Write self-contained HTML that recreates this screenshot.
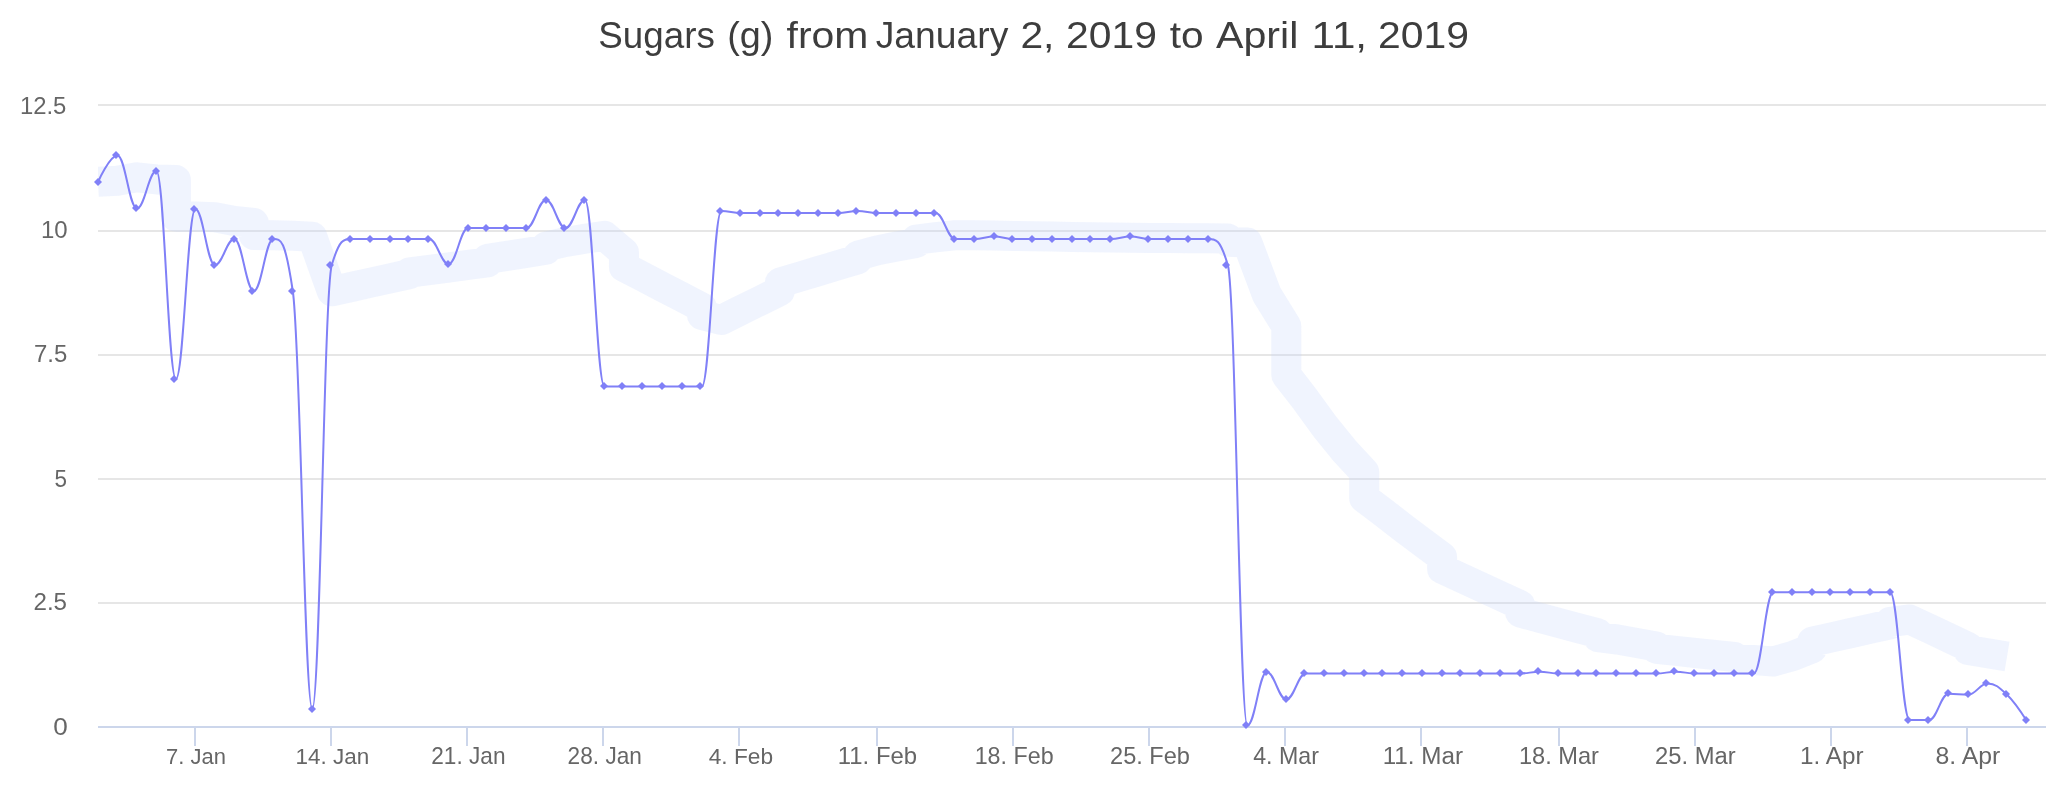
<!DOCTYPE html><html><head><meta charset="utf-8"><title>Sugars</title><style>html,body{margin:0;padding:0;background:#fff}svg{display:block;will-change:transform;opacity:.999}text{font-family:"Liberation Sans",sans-serif}</style></head><body>
<svg width="2066" height="800" viewBox="0 0 2066 800">
<rect width="2066" height="800" fill="#fff"/>
<g fill="#e6e6e6">
<rect x="98" y="104" width="1948" height="2"/>
<rect x="98" y="230" width="1948" height="2"/>
<rect x="98" y="354" width="1948" height="2"/>
<rect x="98" y="478" width="1948" height="2"/>
<rect x="98" y="602" width="1948" height="2"/>
</g>
<g fill="#ccd6eb"><rect x="98" y="726" width="1948" height="2"/>
<rect x="194" y="726" width="2" height="20"/>
<rect x="330" y="726" width="2" height="20"/>
<rect x="466" y="726" width="2" height="20"/>
<rect x="602" y="726" width="2" height="20"/>
<rect x="738" y="726" width="2" height="20"/>
<rect x="876" y="726" width="2" height="20"/>
<rect x="1012" y="726" width="2" height="20"/>
<rect x="1148" y="726" width="2" height="20"/>
<rect x="1284" y="726" width="2" height="20"/>
<rect x="1420" y="726" width="2" height="20"/>
<rect x="1558" y="726" width="2" height="20"/>
<rect x="1694" y="726" width="2" height="20"/>
<rect x="1830" y="726" width="2" height="20"/>
<rect x="1966" y="726" width="2" height="20"/>
</g>
<clipPath id="c"><rect x="98" y="105" width="1948" height="622"/></clipPath>
<g clip-path="url(#c)"><path d="M98.00 181.80 L117.48 180.80 L136.96 177.30 L156.44 179.40 L175.92 180.00 L175.92 216.70 L195.40 216.50 L214.88 217.20 L234.36 221.00 L253.84 223.00 L253.84 235.00 L273.32 235.30 L292.80 235.80 L312.28 236.70 L331.76 291.30 L351.24 287.00 L370.72 282.70 L390.20 278.30 L409.68 274.00 L409.68 272.50 L429.16 270.00 L448.64 267.50 L468.12 264.80 L487.60 262.30 L487.60 258.80 L507.08 255.80 L526.56 252.80 L546.04 249.70 L546.04 246.50 L565.52 242.00 L585.00 238.80 L604.48 235.80 L623.96 252.50 L623.96 266.90 L643.44 277.00 L662.92 287.20 L682.40 297.30 L701.88 307.50 L701.88 315.00 L721.36 320.00 L740.84 310.30 L760.32 300.70 L779.80 291.00 L779.80 282.70 L799.28 276.80 L818.76 271.00 L838.24 265.20 L857.72 259.30 L857.72 255.80 L877.20 250.40 L896.68 246.50 L916.16 243.00 L916.16 239.70 L935.64 237.25 L955.12 235.30 L974.60 235.30 L994.08 235.60 L1013.56 235.90 L1033.04 236.25 L1052.52 236.60 L1072.00 236.90 L1091.48 237.20 L1110.96 237.50 L1130.44 237.70 L1149.92 237.90 L1169.40 238.10 L1188.88 238.25 L1208.36 238.20 L1227.84 238.40 L1227.84 241.70 L1247.32 242.50 L1266.80 294.50 L1286.28 326.00 L1286.28 375.00 L1305.76 400.20 L1325.24 427.00 L1344.72 451.00 L1364.20 472.00 L1364.20 498.00 L1383.68 512.70 L1403.16 527.80 L1422.64 542.50 L1442.12 557.00 L1442.12 569.00 L1461.60 578.00 L1481.08 587.00 L1500.56 596.00 L1520.04 605.00 L1520.04 612.50 L1539.52 617.80 L1559.00 623.00 L1578.48 628.30 L1597.96 633.30 L1597.96 637.00 L1617.44 639.50 L1636.92 643.00 L1656.40 646.50 L1656.40 648.75 L1675.88 650.90 L1695.36 653.00 L1714.84 655.00 L1734.32 657.00 L1734.32 658.75 L1753.80 660.00 L1773.28 661.50 L1792.76 656.00 L1812.24 648.25 L1812.24 641.75 L1831.72 637.40 L1851.20 633.00 L1870.68 628.60 L1890.16 624.25 L1890.16 622.00 L1909.64 619.50 L1929.12 628.50 L1948.60 637.75 L1968.08 647.00 L1968.08 650.00 L1987.56 653.25 L2007.04 656.50" fill="none" stroke="#c3d3fb" stroke-opacity="0.25" stroke-width="30" stroke-linejoin="round" stroke-linecap="butt"/></g>
<path d="M98.00 182.00 C98.00 182.00 109.69 155.50 117.48 155.50 C125.27 155.50 129.17 208.50 136.96 208.50 C144.75 208.50 148.65 171.00 156.44 171.00 C164.23 171.00 168.13 379.00 175.92 379.00 C183.71 379.00 187.61 209.00 195.40 209.00 C203.19 209.00 207.09 265.00 214.88 265.00 C222.67 265.00 226.57 239.00 234.36 239.00 C242.15 239.00 246.05 291.00 253.84 291.00 C261.63 291.00 265.53 239.00 273.32 239.00 C281.11 239.00 285.01 239.00 292.80 291.00 C300.59 343.00 304.49 709.00 312.28 709.00 C320.07 709.00 323.97 291.00 331.76 265.00 C339.55 239.00 343.45 239.00 351.24 239.00 C359.03 239.00 362.93 239.00 370.72 239.00 C378.51 239.00 382.41 239.00 390.20 239.00 C397.99 239.00 401.89 239.00 409.68 239.00 C417.47 239.00 421.37 239.00 429.16 239.00 C436.95 239.00 440.85 264.00 448.64 264.00 C456.43 264.00 460.33 228.00 468.12 228.00 C475.91 228.00 479.81 228.00 487.60 228.00 C495.39 228.00 499.29 228.00 507.08 228.00 C514.87 228.00 518.77 228.00 526.56 228.00 C534.35 228.00 538.25 200.00 546.04 200.00 C553.83 200.00 557.73 228.00 565.52 228.00 C573.31 228.00 577.21 200.00 585.00 200.00 C592.79 200.00 596.69 386.50 604.48 386.50 C612.27 386.50 616.17 386.50 623.96 386.50 C631.75 386.50 635.65 386.50 643.44 386.50 C651.23 386.50 655.13 386.50 662.92 386.50 C670.71 386.50 674.61 386.50 682.40 386.50 C690.19 386.50 694.09 386.50 701.88 386.50 C709.67 386.50 713.57 211.00 721.36 211.00 C729.15 211.00 733.05 213.00 740.84 213.00 C748.63 213.00 752.53 213.00 760.32 213.00 C768.11 213.00 772.01 213.00 779.80 213.00 C787.59 213.00 791.49 213.00 799.28 213.00 C807.07 213.00 810.97 213.00 818.76 213.00 C826.55 213.00 830.45 213.00 838.24 213.00 C846.03 213.00 849.93 211.00 857.72 211.00 C865.51 211.00 869.41 213.00 877.20 213.00 C884.99 213.00 888.89 213.00 896.68 213.00 C904.47 213.00 908.37 213.00 916.16 213.00 C923.95 213.00 927.85 213.00 935.64 213.00 C943.43 213.00 947.33 239.00 955.12 239.00 C962.91 239.00 966.81 239.00 974.60 239.00 C982.39 239.00 986.29 236.50 994.08 236.50 C1001.87 236.50 1005.77 239.00 1013.56 239.00 C1021.35 239.00 1025.25 239.00 1033.04 239.00 C1040.83 239.00 1044.73 239.00 1052.52 239.00 C1060.31 239.00 1064.21 239.00 1072.00 239.00 C1079.79 239.00 1083.69 239.00 1091.48 239.00 C1099.27 239.00 1103.17 239.00 1110.96 239.00 C1118.75 239.00 1122.65 236.50 1130.44 236.50 C1138.23 236.50 1142.13 239.00 1149.92 239.00 C1157.71 239.00 1161.61 239.00 1169.40 239.00 C1177.19 239.00 1181.09 239.00 1188.88 239.00 C1196.67 239.00 1200.57 239.00 1208.36 239.00 C1216.15 239.00 1220.05 239.00 1227.84 265.00 C1235.63 291.00 1239.53 725.50 1247.32 725.50 C1255.11 725.50 1259.01 672.00 1266.80 672.00 C1274.59 672.00 1278.49 699.50 1286.28 699.50 C1294.07 699.50 1297.97 673.50 1305.76 673.50 C1313.55 673.50 1317.45 673.50 1325.24 673.50 C1333.03 673.50 1336.93 673.50 1344.72 673.50 C1352.51 673.50 1356.41 673.50 1364.20 673.50 C1371.99 673.50 1375.89 673.50 1383.68 673.50 C1391.47 673.50 1395.37 673.50 1403.16 673.50 C1410.95 673.50 1414.85 673.50 1422.64 673.50 C1430.43 673.50 1434.33 673.50 1442.12 673.50 C1449.91 673.50 1453.81 673.50 1461.60 673.50 C1469.39 673.50 1473.29 673.50 1481.08 673.50 C1488.87 673.50 1492.77 673.50 1500.56 673.50 C1508.35 673.50 1512.25 673.50 1520.04 673.50 C1527.83 673.50 1531.73 671.75 1539.52 671.75 C1547.31 671.75 1551.21 673.50 1559.00 673.50 C1566.79 673.50 1570.69 673.50 1578.48 673.50 C1586.27 673.50 1590.17 673.50 1597.96 673.50 C1605.75 673.50 1609.65 673.50 1617.44 673.50 C1625.23 673.50 1629.13 673.50 1636.92 673.50 C1644.71 673.50 1648.61 673.50 1656.40 673.50 C1664.19 673.50 1668.09 671.75 1675.88 671.75 C1683.67 671.75 1687.57 673.50 1695.36 673.50 C1703.15 673.50 1707.05 673.50 1714.84 673.50 C1722.63 673.50 1726.53 673.50 1734.32 673.50 C1742.11 673.50 1746.01 673.50 1753.80 673.50 C1761.59 673.50 1765.49 592.25 1773.28 592.25 C1781.07 592.25 1784.97 592.25 1792.76 592.25 C1800.55 592.25 1804.45 592.25 1812.24 592.25 C1820.03 592.25 1823.93 592.25 1831.72 592.25 C1839.51 592.25 1843.41 592.25 1851.20 592.25 C1858.99 592.25 1862.89 592.25 1870.68 592.25 C1878.47 592.25 1882.37 592.25 1890.16 592.25 C1897.95 592.25 1901.85 720.00 1909.64 720.00 C1917.43 720.00 1921.33 720.00 1929.12 720.00 C1936.91 720.00 1940.81 693.75 1948.60 693.75 C1956.39 693.75 1960.29 694.70 1968.08 694.70 C1975.87 694.70 1979.77 683.50 1987.56 683.50 C1995.35 683.50 1999.25 687.35 2007.04 694.75 C2014.83 702.15 2026.52 720.50 2026.52 720.50" fill="none" stroke="#8080f7" stroke-width="2" stroke-linejoin="round" stroke-linecap="round"/>
<path d="M98 178l4 4l-4 4l-4 -4zM116 151l4 4l-4 4l-4 -4zM136 204l4 4l-4 4l-4 -4zM156 167l4 4l-4 4l-4 -4zM174 375l4 4l-4 4l-4 -4zM194 205l4 4l-4 4l-4 -4zM214 261l4 4l-4 4l-4 -4zM234 235l4 4l-4 4l-4 -4zM252 287l4 4l-4 4l-4 -4zM272 235l4 4l-4 4l-4 -4zM292 287l4 4l-4 4l-4 -4zM312 705l4 4l-4 4l-4 -4zM330 261l4 4l-4 4l-4 -4zM350 235l4 4l-4 4l-4 -4zM370 235l4 4l-4 4l-4 -4zM390 235l4 4l-4 4l-4 -4zM408 235l4 4l-4 4l-4 -4zM428 235l4 4l-4 4l-4 -4zM448 260l4 4l-4 4l-4 -4zM468 224l4 4l-4 4l-4 -4zM486 224l4 4l-4 4l-4 -4zM506 224l4 4l-4 4l-4 -4zM526 224l4 4l-4 4l-4 -4zM546 196l4 4l-4 4l-4 -4zM564 224l4 4l-4 4l-4 -4zM584 196l4 4l-4 4l-4 -4zM604 382l4 4l-4 4l-4 -4zM622 382l4 4l-4 4l-4 -4zM642 382l4 4l-4 4l-4 -4zM662 382l4 4l-4 4l-4 -4zM682 382l4 4l-4 4l-4 -4zM700 382l4 4l-4 4l-4 -4zM720 207l4 4l-4 4l-4 -4zM740 209l4 4l-4 4l-4 -4zM760 209l4 4l-4 4l-4 -4zM778 209l4 4l-4 4l-4 -4zM798 209l4 4l-4 4l-4 -4zM818 209l4 4l-4 4l-4 -4zM838 209l4 4l-4 4l-4 -4zM856 207l4 4l-4 4l-4 -4zM876 209l4 4l-4 4l-4 -4zM896 209l4 4l-4 4l-4 -4zM916 209l4 4l-4 4l-4 -4zM934 209l4 4l-4 4l-4 -4zM954 235l4 4l-4 4l-4 -4zM974 235l4 4l-4 4l-4 -4zM994 232l4 4l-4 4l-4 -4zM1012 235l4 4l-4 4l-4 -4zM1032 235l4 4l-4 4l-4 -4zM1052 235l4 4l-4 4l-4 -4zM1072 235l4 4l-4 4l-4 -4zM1090 235l4 4l-4 4l-4 -4zM1110 235l4 4l-4 4l-4 -4zM1130 232l4 4l-4 4l-4 -4zM1148 235l4 4l-4 4l-4 -4zM1168 235l4 4l-4 4l-4 -4zM1188 235l4 4l-4 4l-4 -4zM1208 235l4 4l-4 4l-4 -4zM1226 261l4 4l-4 4l-4 -4zM1246 721l4 4l-4 4l-4 -4zM1266 668l4 4l-4 4l-4 -4zM1286 695l4 4l-4 4l-4 -4zM1304 669l4 4l-4 4l-4 -4zM1324 669l4 4l-4 4l-4 -4zM1344 669l4 4l-4 4l-4 -4zM1364 669l4 4l-4 4l-4 -4zM1382 669l4 4l-4 4l-4 -4zM1402 669l4 4l-4 4l-4 -4zM1422 669l4 4l-4 4l-4 -4zM1442 669l4 4l-4 4l-4 -4zM1460 669l4 4l-4 4l-4 -4zM1480 669l4 4l-4 4l-4 -4zM1500 669l4 4l-4 4l-4 -4zM1520 669l4 4l-4 4l-4 -4zM1538 667l4 4l-4 4l-4 -4zM1558 669l4 4l-4 4l-4 -4zM1578 669l4 4l-4 4l-4 -4zM1596 669l4 4l-4 4l-4 -4zM1616 669l4 4l-4 4l-4 -4zM1636 669l4 4l-4 4l-4 -4zM1656 669l4 4l-4 4l-4 -4zM1674 667l4 4l-4 4l-4 -4zM1694 669l4 4l-4 4l-4 -4zM1714 669l4 4l-4 4l-4 -4zM1734 669l4 4l-4 4l-4 -4zM1752 669l4 4l-4 4l-4 -4zM1772 588l4 4l-4 4l-4 -4zM1792 588l4 4l-4 4l-4 -4zM1812 588l4 4l-4 4l-4 -4zM1830 588l4 4l-4 4l-4 -4zM1850 588l4 4l-4 4l-4 -4zM1870 588l4 4l-4 4l-4 -4zM1890 588l4 4l-4 4l-4 -4zM1908 716l4 4l-4 4l-4 -4zM1928 716l4 4l-4 4l-4 -4zM1948 689l4 4l-4 4l-4 -4zM1968 690l4 4l-4 4l-4 -4zM1986 679l4 4l-4 4l-4 -4zM2006 690l4 4l-4 4l-4 -4zM2026 716l4 4l-4 4l-4 -4z" fill="#8080f7"/>
<text transform="translate(598.31 48.25) scale(0.9939 1)" font-size="37" fill="#3d3d3d">Sugars</text>
<text transform="translate(727.26 48.25) scale(1.0220 1)" font-size="37" fill="#3d3d3d">(g)</text>
<text transform="translate(786.60 48.25) scale(1.1056 1)" font-size="37" fill="#3d3d3d">from</text>
<text transform="translate(875.69 48.25) scale(1.0076 1)" font-size="37" fill="#3d3d3d">January</text>
<text transform="translate(1020.39 48.25) scale(1.1038 1)" font-size="37" fill="#3d3d3d">2,</text>
<text transform="translate(1066.09 48.25) scale(1.1025 1)" font-size="37" fill="#3d3d3d">2019</text>
<text transform="translate(1169.70 48.25) scale(1.0967 1)" font-size="37" fill="#3d3d3d">to</text>
<text transform="translate(1216.00 48.25) scale(1.1125 1)" font-size="37" fill="#3d3d3d">April</text>
<text transform="translate(1311.58 48.25) scale(1.1395 1)" font-size="37" fill="#3d3d3d">11,</text>
<text transform="translate(1378.09 48.25) scale(1.1051 1)" font-size="37" fill="#3d3d3d">2019</text>
<text transform="translate(166.04 764.00) scale(0.9567 1)" font-size="23" fill="#666666">7. Jan</text>
<text transform="translate(295.44 764.00) scale(0.9778 1)" font-size="23" fill="#666666">14. Jan</text>
<text transform="translate(431.22 764.00) scale(0.9849 1)" font-size="23" fill="#666666">21. Jan</text>
<text transform="translate(567.62 764.00) scale(0.9849 1)" font-size="23" fill="#666666">28. Jan</text>
<text transform="translate(708.70 764.00) scale(0.9877 1)" font-size="23" fill="#666666">4. Feb</text>
<text transform="translate(837.82 764.00) scale(1.0392 1)" font-size="23" fill="#666666">11. Feb</text>
<text transform="translate(974.68 764.00) scale(1.0120 1)" font-size="23" fill="#666666">18. Feb</text>
<text transform="translate(1110.07 764.00) scale(1.0250 1)" font-size="23" fill="#666666">25. Feb</text>
<text transform="translate(1253.20 764.00) scale(1.0077 1)" font-size="23" fill="#666666">4. Mar</text>
<text transform="translate(1382.69 764.00) scale(1.0541 1)" font-size="23" fill="#666666">11. Mar</text>
<text transform="translate(1518.94 764.00) scale(1.0276 1)" font-size="23" fill="#666666">18. Mar</text>
<text transform="translate(1655.07 764.00) scale(1.0338 1)" font-size="23" fill="#666666">25. Mar</text>
<text transform="translate(1800.09 764.00) scale(1.0552 1)" font-size="23" fill="#666666">1. Apr</text>
<text transform="translate(1935.52 764.00) scale(1.0797 1)" font-size="23" fill="#666666">8. Apr</text>
<text transform="translate(19.92 114.00) scale(1.0381 1)" font-size="23" fill="#666666">12.5</text>
<text transform="translate(40.91 238.25) scale(1.0435 1)" font-size="23" fill="#666666">10</text>
<text transform="translate(33.96 362.25) scale(1.0417 1)" font-size="23" fill="#666666">7.5</text>
<text transform="translate(54.52 486.50) scale(0.9773 1)" font-size="23" fill="#666666">5</text>
<text transform="translate(33.45 610.25) scale(1.0500 1)" font-size="23" fill="#666666">2.5</text>
<text transform="translate(53.36 734.50) scale(1.1364 1)" font-size="23" fill="#666666">0</text>
</svg></body></html>
